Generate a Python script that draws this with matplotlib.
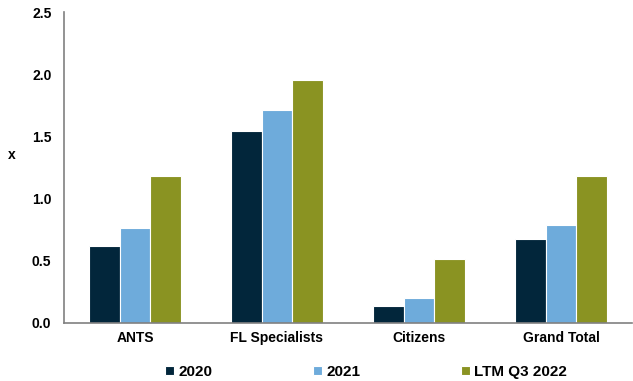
import numpy as np
import matplotlib
matplotlib.use("Agg")
import matplotlib.pyplot as plt

# data
categories = ["ANTS", "FL Specialists", "Citizens", "Grand Total"]
series_names = ["2020", "2021", "LTM Q3 2022"]
vals_2020 = [0.62, 1.54, 0.135, 0.675]
vals_2021 = [0.765, 1.71, 0.20, 0.79]
vals_ltm = [1.18, 1.95, 0.515, 1.18]
colors = ["#02263B", "#6EABDB", "#8A9322"]

plt.rcParams["font.family"] = ["Liberation Sans", "DejaVu Sans"]
plt.rcParams["font.weight"] = "bold"

fig = plt.figure(figsize=(6.33, 3.81), dpi=100)
ax = fig.add_axes([64 / 633, 58 / 381, 568 / 633, 311 / 381])

x = np.arange(len(categories))
w = 0.218
for i, (vals, name) in enumerate(zip([vals_2020, vals_2021, vals_ltm], series_names)):
    ax.bar(x + (i - 1) * w, vals, w, color=colors[i], edgecolor="white",
           linewidth=0.8, label=name)

ax.set_xlim(-0.5, len(categories) - 0.5)
ax.set_ylim(0, 2.5)
ax.set_yticks(np.arange(0, 2.51, 0.5))
ax.yaxis.set_major_formatter(matplotlib.ticker.FormatStrFormatter("%.1f"))
ax.set_xticks(x)
ax.set_xticklabels(categories)
ax.tick_params(axis="both", length=0, labelsize=10)
ax.tick_params(axis="x", pad=6)
ax.tick_params(axis="y", pad=9)

for s in ["top", "right"]:
    ax.spines[s].set_visible(False)
for s in ["left", "bottom"]:
    ax.spines[s].set_color("#808080")
    ax.spines[s].set_linewidth(1.2)

ax.set_ylabel("x", rotation=0, fontsize=10, fontweight="bold", va="center", ha="center")
ax.yaxis.set_label_coords(-0.092, 0.54)

fig.legend(loc="center", bbox_to_anchor=(366 / 633, 9 / 381), ncol=3,
           frameon=False, fontsize=11, handlelength=0.6, handleheight=0.6,
           handletextpad=0.25, columnspacing=6.6)

fig.savefig("out.png", dpi=100)
